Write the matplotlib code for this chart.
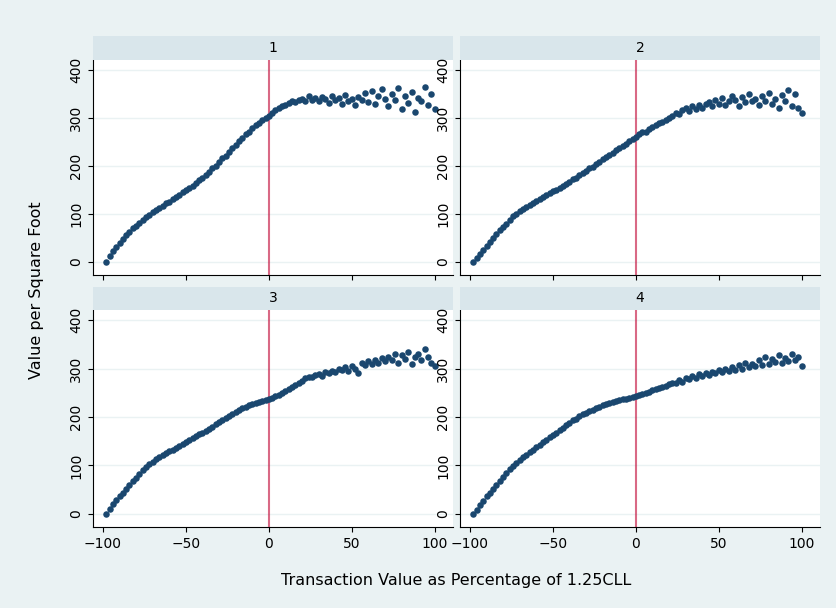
import numpy as np
import matplotlib.pyplot as plt

x = list(range(-98, 101, 2))

panel_1 = [0, 12, 22, 32, 40, 48, 56, 63, 70, 76, 82, 88, 94, 99, 104, 108, 113, 117, 122, 126,
           131, 135, 140, 145, 150, 154, 159, 164, 170, 175, 182, 188, 195, 201, 208, 216, 222, 230, 237, 244,
           252, 259, 266, 272, 279, 285, 290, 296, 301, 305, 310, 316, 320, 325, 328, 332, 335, 333, 338, 340,
           336, 345, 338, 342, 335, 344, 340, 332, 346, 338, 342, 330, 348, 336, 340, 328, 344, 338, 352, 334,
           356, 330, 345, 360, 340, 325, 350, 338, 362, 318, 345, 332, 355, 312, 342, 335, 365, 328, 350, 318]
panel_2 = [0, 8, 17, 26, 34, 42, 50, 58, 66, 73, 80, 88, 95, 101, 106, 110, 115, 119, 123, 127,
           131, 135, 139, 143, 147, 151, 155, 159, 163, 167, 172, 176, 181, 185, 190, 195, 199, 204, 209, 214,
           218, 223, 228, 233, 237, 242, 247, 252, 256, 260, 266, 270, 272, 278, 282, 286, 289, 292, 296, 300,
           305, 310, 308, 316, 320, 314, 325, 318, 328, 322, 330, 334, 325, 338, 330, 342, 328, 335, 345, 338,
           326, 344, 333, 350, 336, 340, 328, 345, 335, 352, 330, 340, 322, 348, 336, 358, 326, 350, 320, 310]
panel_3 = [0, 10, 20, 28, 36, 44, 52, 60, 67, 75, 82, 90, 97, 103, 108, 113, 118, 122, 126, 130,
           133, 137, 140, 144, 148, 152, 156, 160, 164, 168, 172, 176, 180, 185, 190, 194, 198, 203, 207, 211,
           215, 218, 221, 224, 226, 229, 231, 234, 236, 238, 240, 243, 246, 250, 254, 258, 262, 266, 270, 275,
           280, 283, 282, 286, 289, 285, 292, 290, 296, 294, 300, 298, 303, 296, 305, 300, 290, 312, 308, 316,
           310, 318, 312, 322, 315, 325, 318, 330, 312, 328, 320, 335, 310, 325, 330, 318, 340, 325, 312, 306]
panel_4 = [0, 9, 18, 27, 36, 44, 52, 60, 68, 76, 84, 92, 99, 105, 111, 117, 122, 128, 133, 138,
           143, 148, 153, 158, 163, 168, 173, 178, 183, 188, 193, 197, 202, 206, 209, 212, 215, 218, 221, 224,
           226, 229, 231, 233, 235, 237, 238, 240, 241, 243, 245, 247, 250, 252, 255, 257, 260, 262, 265, 268,
           271, 270, 276, 272, 280, 278, 284, 280, 288, 285, 290, 286, 294, 290, 297, 292, 300, 296, 304, 298,
           308, 300, 312, 304, 310, 306, 318, 308, 325, 310, 320, 314, 328, 312, 322, 316, 330, 318, 325, 305]

titles = ['1', '2', '3', '4']
series = [panel_1, panel_2, panel_3, panel_4]

W, H = 836, 608
fig = plt.figure(figsize=(W / 100, H / 100), dpi=100, facecolor='#eaf2f3')

# pixel boxes: (left, right, strip_top, plot_top, plot_bottom)
cols = [(93, 453), (460, 820)]
rows = [(36, 60, 275), (287, 310, 527)]

for i, (title, y) in enumerate(zip(titles, series)):
    l, r = cols[i % 2]
    st, pt, pb = rows[i // 2]
    ax = fig.add_axes([l / W, 1 - pb / H, (r - l) / W, (pb - pt) / H], facecolor='white')
    sax = fig.add_axes([l / W, 1 - pt / H, (r - l) / W, (pt - st) / H], facecolor='#d9e6eb')
    sax.set_xticks([]); sax.set_yticks([])
    for s in sax.spines.values():
        s.set_visible(False)
    sax.text(0.5, 0.5, title, ha='center', va='center', fontsize=10, transform=sax.transAxes)

    ax.set_axisbelow(True)
    ax.grid(axis='y', color='#eaf2f3', linewidth=1)
    ax.axvline(0, color='#c10534', alpha=0.6, linewidth=1.5, zorder=1)
    ax.scatter(x, y, s=22, color='#1a476f', zorder=3, linewidths=0)
    ax.set_xlim(-106, 111)
    ax.set_ylim(-27, 421)
    ax.set_yticks([0, 100, 200, 300, 400])
    ax.set_xticks([-100, -50, 0, 50, 100])
    for s in ['top', 'right']:
        ax.spines[s].set_visible(False)
    ax.tick_params(axis='y', labelrotation=90, labelsize=10)
    for lab in ax.get_yticklabels():
        lab.set_va('center')
    if i < 2:
        ax.tick_params(axis='x', labelbottom=False)
    else:
        ax.tick_params(axis='x', labelsize=10)

fig.text(37 / W, 1 - 290 / H, 'Value per Square Foot', rotation=90, ha='center', va='center', fontsize=11.5)
fig.text(456 / W, 1 - 580 / H, 'Transaction Value as Percentage of 1.25CLL', ha='center', va='center', fontsize=11.5)

fig.savefig('out.png', dpi=100, facecolor=fig.get_facecolor())
